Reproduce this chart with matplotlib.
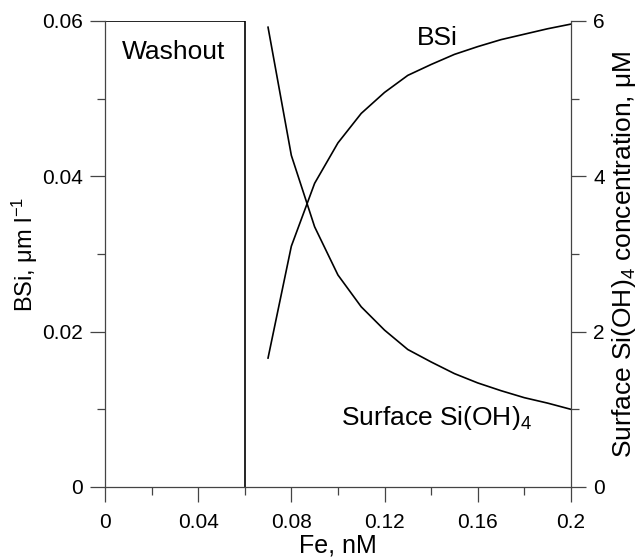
import numpy as np
import matplotlib
matplotlib.use("Agg")
import matplotlib.pyplot as plt
from matplotlib.ticker import MultipleLocator, FixedLocator

plt.rcParams['font.family'] = ['Liberation Sans', 'DejaVu Sans']
plt.rcParams['mathtext.fontset'] = 'custom'
plt.rcParams['mathtext.rm'] = 'Liberation Sans'
plt.rcParams['mathtext.it'] = 'Liberation Sans'

# data
fe = [0.07, 0.08, 0.09, 0.10, 0.11, 0.12, 0.13, 0.14, 0.15, 0.16, 0.17, 0.18, 0.19, 0.20]
bsi = [0.0166, 0.0310, 0.0391, 0.0443, 0.0481, 0.0508, 0.0530, 0.0544,
       0.0557, 0.0567, 0.0576, 0.0583, 0.0590, 0.0596]
surf_si = [5.92, 4.27, 3.35, 2.73, 2.32, 2.02, 1.77, 1.61,
           1.46, 1.34, 1.24, 1.15, 1.08, 1.00]
washout_fe = 0.06
washout_top = 0.06

spine_col = '#444444'

fig = plt.figure(figsize=(6.4, 5.57), dpi=100)
ax = fig.add_axes([0.164, 0.1257, 0.728, 0.8366])
ax2 = ax.twinx()

ax.plot(fe, bsi, color='black', lw=1.2)
ax2.plot(fe, surf_si, color='black', lw=1.2)

# washout box
ax.plot([0, washout_fe, washout_fe], [washout_top, washout_top, 0], color='black', lw=1.2)

ax.set_xlim(0, 0.2)
ax.set_ylim(0, 0.06)
ax2.set_ylim(0, 6)

for a in (ax, ax2):
    a.spines['top'].set_visible(False)
    for s in a.spines.values():
        s.set_color(spine_col)
        s.set_linewidth(0.9)
    a.set_facecolor('none')
ax.spines['right'].set_visible(False)
ax2.spines['left'].set_visible(False)
ax2.spines['bottom'].set_visible(False)

ax.xaxis.set_major_locator(FixedLocator([0, 0.04, 0.08, 0.12, 0.16, 0.2]))
ax.xaxis.set_minor_locator(MultipleLocator(0.02))
ax.set_xticklabels(['0', '0.04', '0.08', '0.12', '0.16', '0.2'])
ax.yaxis.set_major_locator(FixedLocator([0, 0.02, 0.04, 0.06]))
ax.yaxis.set_minor_locator(MultipleLocator(0.01))
ax.set_yticklabels(['0', '0.02', '0.04', '0.06'])
ax2.yaxis.set_major_locator(FixedLocator([0, 2, 4, 6]))
ax2.yaxis.set_minor_locator(MultipleLocator(1))

ax.tick_params(axis='y', which='major', direction='out', length=11, width=0.9, color=spine_col,
               labelsize=15, pad=5)
ax.tick_params(axis='x', which='major', direction='out', length=11, width=0.9, color=spine_col,
               labelsize=15, pad=8)
ax.tick_params(which='minor', direction='out', length=6, width=0.9, color=spine_col)
ax2.tick_params(which='major', direction='out', length=11, width=0.9, color=spine_col,
                labelsize=15, pad=5)
ax2.tick_params(which='minor', direction='out', length=6, width=0.9, color=spine_col)

ax.set_xlabel('Fe, nM', fontsize=18, labelpad=1)
ax.set_ylabel('BSi, μm l$^{-1}$', fontsize=17, labelpad=1)
ax2.set_ylabel('Surface Si(OH)$_4$ concentration, μM', fontsize=19, labelpad=4)

ax.text(0.0296, 0.056, 'Washout', fontsize=19, ha='center', va='center')
ax.text(0.1425, 0.0578, 'BSi', fontsize=19, ha='center', va='center')
ax2.text(0.1015, 0.89, 'Surface Si(OH)$_4$', fontsize=19, ha='left', va='center')

fig.savefig('out.png', dpi=100)
